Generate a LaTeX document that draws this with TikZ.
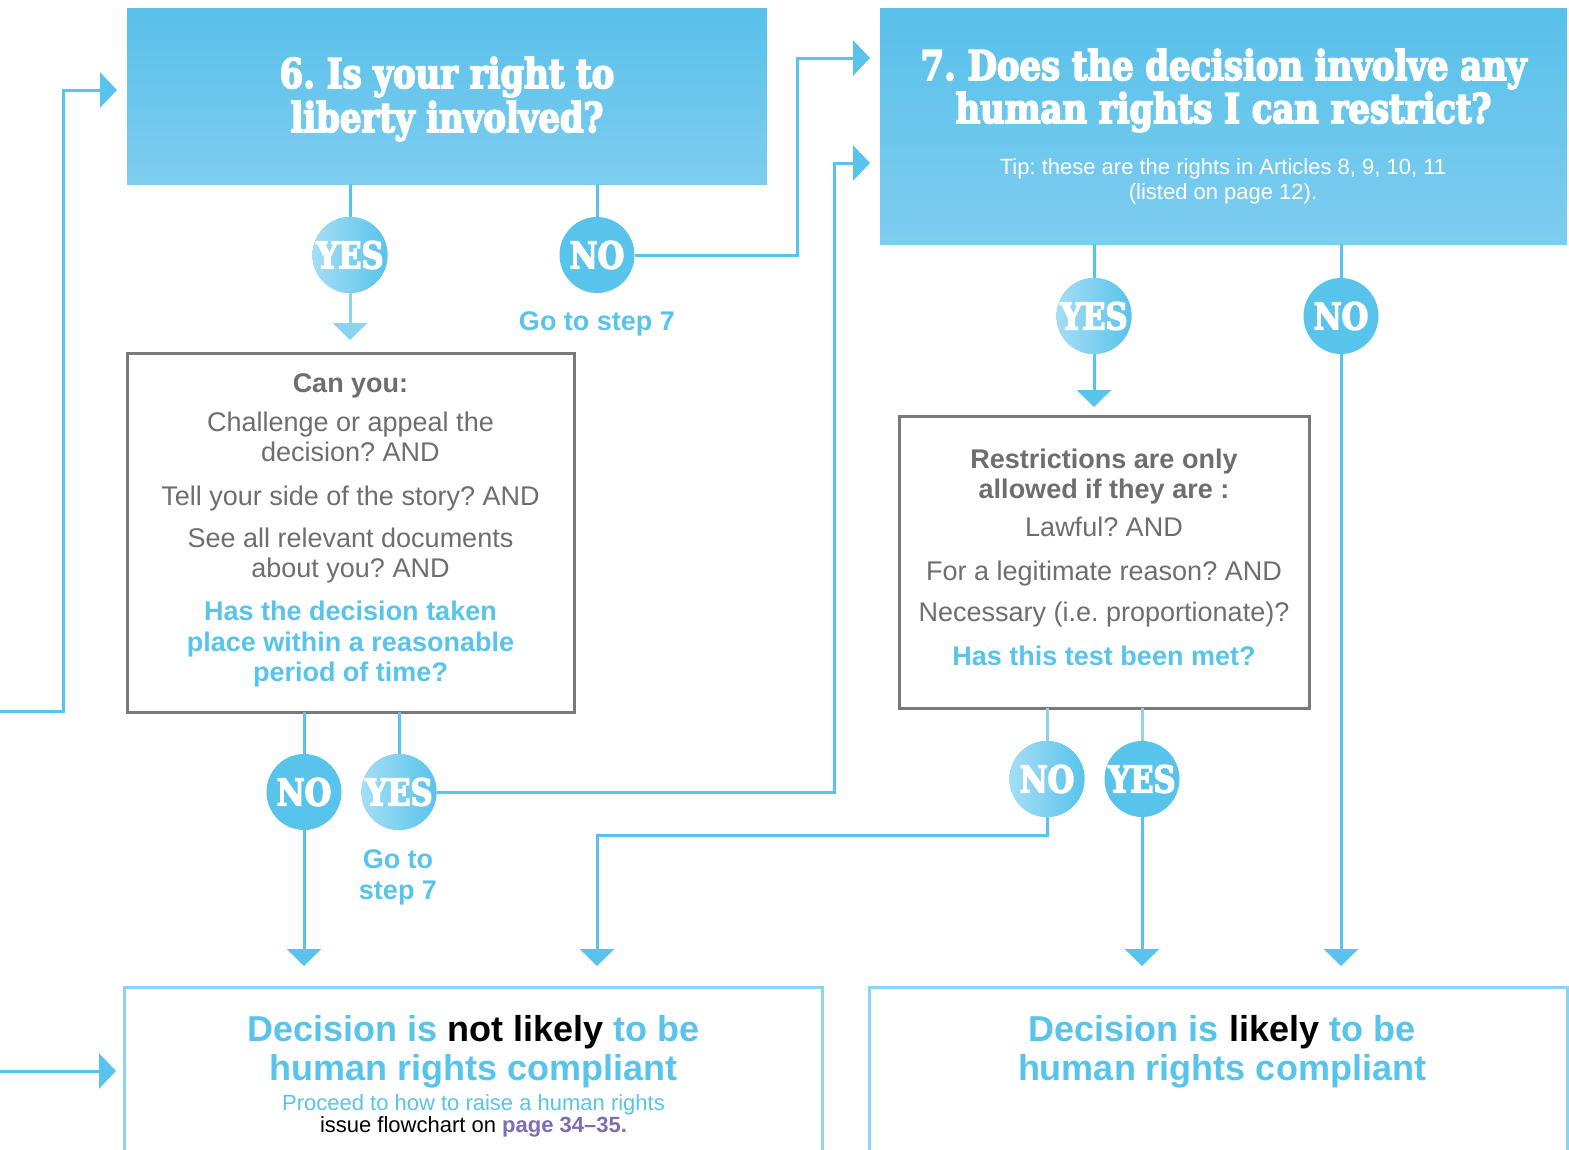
\documentclass[tikz,border=0pt]{standalone}
\usepackage{fontspec}
\setmainfont{Liberation Sans}
\newfontfamily\slab{DejaVu Serif}[UprightFont={* Bold},FakeStretch=0.825,FakeBold=4]
\usetikzlibrary{arrows.meta,shapes.geometric,calc}
\definecolor{hrblue}{RGB}{88,195,235}
\definecolor{hrlight}{RGB}{140,211,240}
\definecolor{hrpale}{RGB}{165,222,245}
\definecolor{hrtop}{RGB}{88,192,234}
\definecolor{hrbot}{RGB}{126,205,239}
\definecolor{hrgray}{RGB}{109,110,113}
\definecolor{hrborder}{RGB}{120,121,124}
\definecolor{hrpurple}{RGB}{124,110,176}
\frenchspacing
\begin{document}
\begin{tikzpicture}[x=1pt,y=-1pt,
  conn/.style={draw=hrblue,line width=3pt},
  lconn/.style={draw=hrlight,line width=3pt},
  tipR/.style={-{Triangle[length=17pt,width=35pt]}},
  tipD/.style={-{Triangle[length=17pt,width=34pt]}},
  qbox/.style={rectangle,top color=hrtop,bottom color=hrbot,draw=none,inner sep=0pt,outer sep=0pt},
  testbox/.style={rectangle,draw=hrborder,line width=3pt,fill=white,inner sep=0pt,outer sep=0pt},
  endbox/.style={rectangle,inner sep=0pt,outer sep=0pt},
  endborder/.style={draw=hrlight,line width=3pt},
  answer/.style={ellipse,fill=hrblue,minimum width=75pt,minimum height=76pt,inner sep=0pt,outer sep=0pt,
    text=white,font=\slab\fontsize{37}{37}\selectfont},
  answerlt/.style={answer,left color=hrpale,right color=hrblue},
  titletxt/.style={anchor=base,inner sep=0pt,text=white,font=\slab\fontsize{41}{44}\selectfont},
  tiptxt/.style={anchor=base,inner sep=0pt,text=white,font=\fontsize{22}{26}\selectfont},
  bodytxt/.style={anchor=base,inner sep=0pt,text=hrgray,font=\fontsize{27}{30}\selectfont},
  bodybold/.style={anchor=base,inner sep=0pt,text=hrgray,font=\bfseries\fontsize{27}{30}\selectfont},
  asktxt/.style={anchor=base,inner sep=0pt,text=hrblue,font=\bfseries\fontsize{27}{30}\selectfont},
  endtitle/.style={anchor=base,inner sep=0pt,text=hrblue,font=\bfseries\fontsize{36}{38}\selectfont},
  endsub/.style={anchor=base,inner sep=0pt,text=hrblue,font=\fontsize{22}{23}\selectfont}
]
\useasboundingbox (0,0) rectangle (1569,1149);
\fill[white] (0,0) rectangle (1569,1149);

% ---------- question 6 ----------
\node[qbox,minimum width=640pt,minimum height=176pt] (q6) at (447,96) {};
\node[titletxt] (q6a) at (447,88) {6. Is your right to};
\node[titletxt] (q6b) at (447,132) {liberty involved?};

% ---------- question 7 ----------
\node[qbox,minimum width=687pt,minimum height=236pt] (q7) at (1223.5,126) {};
\node[titletxt] (q7a) at (1223.5,80) {7. Does the decision involve any};
\node[titletxt] (q7b) at (1223.5,123) {human rights I can restrict?};
\node[tiptxt] (q7c) at (1223,174) {Tip: these are the rights in Articles 8, 9, 10, 11};
\node[tiptxt] (q7d) at (1223,199) {(listed on page 12).};

% ---------- test box (liberty) ----------
\node[testbox,minimum width=447pt,minimum height=359pt] (can) at (351,532.5) {};
\node[bodybold] (c1) at (350.5,392.5) {Can you:};
\node[bodytxt] (c2) at (350.5,431.5) {Challenge or appeal the};
\node[bodytxt] (c3) at (350.5,461.5) {decision? AND};
\node[bodytxt] (c4) at (350.5,505) {Tell your side of the story? AND};
\node[bodytxt] (c5) at (350.5,547.5) {See all relevant documents};
\node[bodytxt] (c6) at (350.5,577.5) {about you? AND};
\node[asktxt] (c7) at (350.5,620) {Has the decision taken};
\node[asktxt] (c8) at (350.5,651.5) {place within a reasonable};
\node[asktxt] (c9) at (350.5,681.5) {period of time?};

% ---------- test box (restrictions) ----------
\node[testbox,minimum width=410pt,minimum height=292pt] (restr) at (1104.5,562) {};
\node[bodybold] (r1) at (1104,468) {Restrictions are only};
\node[bodybold] (r2) at (1104,498) {allowed if they are :};
\node[bodytxt] (r3) at (1104,536.5) {Lawful? AND};
\node[bodytxt] (r4) at (1104,580) {For a legitimate reason? AND};
\node[bodytxt] (r5) at (1104,621.5) {Necessary (i.e. proportionate)?};
\node[asktxt] (r6) at (1104,665) {Has this test been met?};

% ---------- outcome boxes ----------
\node[endbox,minimum width=698pt,minimum height=173pt] (lbox) at (473,1073.5) {};
\node[endbox,minimum width=698pt,minimum height=173pt] (rbox) at (1218,1073.5) {};
\draw[endborder] (lbox.south west) |- (lbox.north east) -- (lbox.south east);
\draw[endborder] (rbox.south west) |- (rbox.north east) -- (rbox.south east);
\node[endtitle] (l1) at (473.5,1041.5) {Decision is \textcolor{black}{not likely} to be};
\node[endtitle] (l2) at (473.5,1080) {human rights compliant};
\node[endsub] (l3) at (473.5,1110) {Proceed to how to raise a human rights};
\node[endsub] (l4) at (473.5,1132) {\textcolor{black}{issue flowchart on} \textcolor{hrpurple}{\bfseries page 34–35.}};
\node[endtitle] (r7) at (1222,1041.5) {Decision is \textcolor{black}{likely} to be};
\node[endtitle] (r8) at (1222,1080) {human rights compliant};

% ---------- answers ----------
\node[answerlt] (yes6) at (350,255) {\makebox[0pt]{YES}};
\node[answer] (no6) at (597,255) {\makebox[0pt]{NO}};
\node[asktxt] (go6) at (597,330) {Go to step 7};
\node[answer] (nocan) at (304,792) {\makebox[0pt]{NO}};
\node[answerlt] (yescan) at (399,792) {\makebox[0pt]{YES}};
\node[asktxt] (gocan1) at (398,868) {Go to};
\node[asktxt] (gocan2) at (398,899) {step 7};
\node[answerlt] (yes7) at (1094,316) {\makebox[0pt]{YES}};
\node[answer] (no7) at (1341,316) {\makebox[0pt]{NO}};
\node[answerlt] (nor) at (1047,779) {\makebox[0pt]{NO}};
\node[answer] (yesr) at (1142,779) {\makebox[0pt]{YES}};

\coordinate (in6) at (0,711);
\coordinate (inL) at (0,1071);

% ---------- connectors ----------
\draw[conn,tipR] (in6) -- ++(63,0) |- ([xshift=-10pt,yshift=6pt]q6.west);
\draw[conn,tipR] (inL) -- ([xshift=-8pt,yshift=2.5pt]lbox.west);
\draw[conn] (yes6 |- q6.south) -- (yes6);
\draw[conn] (no6 |- q6.south) -- (no6);
\draw[lconn,tipD] (yes6) -- ([yshift=13pt]can.north -| yes6);
\draw[conn,tipR] (no6.east) -- ++(163,0) |- ([xshift=-10pt,yshift=68pt]q7.west);
\draw[conn] (nocan |- can.south) -- (nocan);
\draw[conn] (yescan |- can.south) -- (yescan);
\draw[conn,tipD] (nocan) -- ([yshift=21pt]lbox.north -| nocan);
\draw[conn,tipR] (yescan.east) -- ++(398,0) |- ([xshift=-10pt,yshift=-37pt]q7.west);
\draw[conn] (yes7 |- q7.south) -- (yes7);
\draw[conn] (no7 |- q7.south) -- (no7);
\draw[conn,tipD] (yes7) -- ([yshift=9pt]restr.north -| yes7);
\draw[conn,tipD] (no7) -- ([yshift=21pt]rbox.north -| no7);
\draw[lconn] (nor |- restr.south) -- (nor);
\draw[lconn] (yesr |- restr.south) -- (yesr);
\draw[conn,tipD] (nor.south) -- ++(0,18) -| ([xshift=124pt,yshift=21pt]lbox.north);
\draw[conn,tipD] (yesr) -- ([yshift=21pt]rbox.north -| yesr);
\end{tikzpicture}
\end{document}
